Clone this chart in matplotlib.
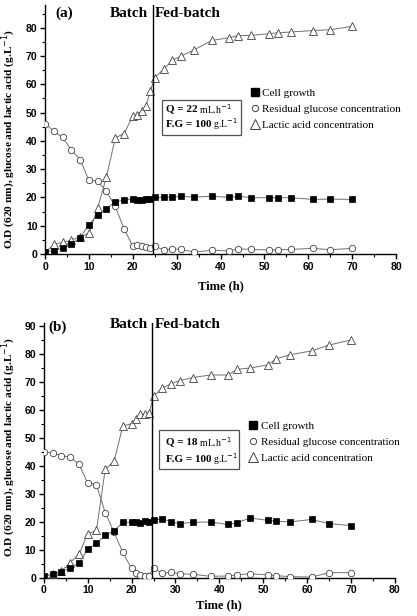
import matplotlib
matplotlib.use("Agg")
import matplotlib.pyplot as plt
from matplotlib.lines import Line2D
from matplotlib.patches import Rectangle
from matplotlib.ticker import MultipleLocator

# ---------------- data ----------------
time = [0, 2, 4, 6, 8, 10, 12, 14, 16, 18, 20, 21, 22, 23, 24, 25, 27, 29, 31, 34,
        38, 42, 44, 47, 51, 53, 56, 61, 65, 70]

cell_a = [0.8, 1.2, 2.0, 3.4, 5.8, 10.4, 13.8, 16.0, 18.5, 19.0, 19.6, 19.1, 19.2, 19.3, 19.5,
          20.0, 20.0, 20.1, 20.4, 20.1, 20.4, 20.0, 20.4, 19.9, 19.9, 19.9, 19.9, 19.3, 19.4, 19.3]
glucose_a = [46.1, 43.5, 41.2, 36.8, 33.4, 26.0, 25.8, 22.1, 16.8, 8.9, 2.7, 3.2, 2.8, 2.4, 2.0,
             2.7, 1.5, 1.8, 1.6, 0.7, 1.3, 1.1, 1.8, 1.6, 1.4, 1.5, 1.6, 2.0, 1.5, 2.0]
lactic_a = [0.5, 3.4, 4.1, 4.9, 6.1, 7.3, 16.2, 27.3, 41.0, 42.6, 48.7, 49.3, 50.6, 52.4, 57.6,
            62.4, 65.3, 68.5, 70.0, 72.2, 75.5, 76.5, 77.2, 77.3, 77.9, 78.2, 78.5, 79.0, 79.3, 80.5]

cell_b = [0.7, 1.2, 2.0, 3.6, 5.1, 10.2, 12.3, 15.2, 16.7, 19.8, 19.8, 19.8, 19.6, 20.4, 19.9,
          20.6, 21.0, 20.0, 19.3, 19.8, 19.9, 19.0, 19.6, 21.3, 20.5, 20.2, 19.9, 20.8, 19.3, 18.6]
glucose_b = [45.0, 44.6, 43.6, 43.0, 40.6, 33.8, 33.2, 23.2, 16.3, 9.0, 3.3, 1.5, 1.0, 0.7, 0.7,
             3.6, 1.5, 1.9, 1.4, 1.2, 0.5, 0.6, 1.0, 1.4, 1.0, 0.7, 0.4, 0.2, 1.8, 1.8]
lactic_b = [0.5, 1.2, 2.4, 5.4, 8.3, 15.6, 16.9, 38.7, 41.5, 54.2, 55.0, 56.8, 58.3, 58.6, 58.8,
            64.8, 67.7, 69.3, 70.4, 71.5, 72.4, 72.4, 74.4, 74.9, 76.0, 78.2, 79.6, 81.0, 83.1, 84.9]

switch_a = 24.5
switch_b = 24.7
flow_a = "22"
flow_b = "18"
feed_glucose = "100"
legend_labels = ["Cell growth", "Residual glucose concentration", "Lactic acid concentration"]
xlabel = "Time (h)"
ylabel = "O.D (620 nm), glucose and lactic acid (g.L$^{-1}$)"

SERIF = ["Liberation Serif", "DejaVu Serif"]
SANS = ["Liberation Sans", "DejaVu Sans"]
LINE_C = "#707070"
EDGE_C = "#404040"

fig = plt.figure(figsize=(4.17, 6.16), dpi=100)
fig.patch.set_facecolor("white")

panels = [
    dict(pos=[0.108, 0.5877, 0.842, 0.404], ylim=88, yticks=range(0, 81, 10),
         cell=cell_a, glu=glucose_a, lac=lactic_a, sw=switch_a, tag="(a)", flow=flow_a,
         tag_xy=(2.3, 85.2), bt_y=85.2, box=(26.7, 42.0, 18.0, 12.4),
         q_y=51.2, f_y=45.9, txt_x=27.5, leg=(0.584, 0.665), xl_pad=6,
         ylab=(-0.076, 0.462)),
    dict(pos=[0.105, 0.0622, 0.842, 0.4136], ylim=91, yticks=range(0, 91, 10),
         cell=cell_b, glu=glucose_b, lac=lactic_b, sw=switch_b, tag="(b)", flow=flow_b,
         tag_xy=(1.0, 89.5), bt_y=90.6, box=(26.2, 38.8, 18.2, 13.9),
         q_y=48.6, f_y=42.3, txt_x=27.8, leg=(0.584, 0.615), xl_pad=3,
         ylab=(-0.073, 0.515)),
]

for p in panels:
    ax = fig.add_axes(p["pos"])
    ax.plot(time, p["lac"], "-", color=LINE_C, lw=0.7, marker="^", ms=5.2,
            mfc="white", mec=EDGE_C, mew=0.6, zorder=3)
    ax.plot(time, p["glu"], "-", color=LINE_C, lw=0.7, marker="o", ms=4.6,
            mfc="white", mec=EDGE_C, mew=0.6, zorder=3)
    ax.plot(time, p["cell"], "-", color=LINE_C, lw=0.7, marker="s", ms=3.8,
            mfc="black", mec="black", mew=0.5, zorder=4)
    ax.axvline(p["sw"], color="black", lw=1.0, zorder=5)

    ax.set_xlim(0, 80)
    ax.set_ylim(0, p["ylim"])
    ax.set_xticks(range(0, 81, 10))
    ax.set_yticks(list(p["yticks"]))
    ax.xaxis.set_minor_locator(MultipleLocator(5))
    ax.yaxis.set_minor_locator(MultipleLocator(5))
    for s in ["top", "right"]:
        ax.spines[s].set_visible(False)
    for s in ["left", "bottom"]:
        ax.spines[s].set_linewidth(1.0)
    ax.tick_params(which="major", direction="out", length=3.5, width=1.0, pad=2,
                   labelsize=7.5)
    ax.tick_params(which="minor", direction="out", length=2, width=0.8)
    for lab in ax.get_xticklabels() + ax.get_yticklabels():
        lab.set_fontfamily(SANS)
        lab.set_fontweight("bold")

    ax.set_xlabel(xlabel, fontsize=9, fontweight="bold", family=SERIF, labelpad=p["xl_pad"])
    ax.set_ylabel(ylabel, fontsize=8.2, fontweight="bold", family=SERIF)
    ax.yaxis.set_label_coords(*p["ylab"])

    ax.text(p["tag_xy"][0], p["tag_xy"][1], p["tag"], fontsize=11, fontweight="bold",
            family=SERIF, ha="left", va="center", clip_on=False)
    ax.text(p["sw"] - 1.0, p["bt_y"], "Batch", fontsize=11, fontweight="bold",
            family=SERIF, ha="right", va="center", clip_on=False)
    ax.text(p["sw"] + 0.5, p["bt_y"], "Fed-batch", fontsize=11, fontweight="bold",
            family=SERIF, ha="left", va="center", clip_on=False)

    bx, by, bw, bh = p["box"]
    ax.add_patch(Rectangle((bx, by), bw, bh, fill=False, ec="#505050", lw=0.9, zorder=6))
    t1 = ax.text(p["txt_x"], p["q_y"], "Q = " + p["flow"], fontsize=8, fontweight="bold",
                 family=SERIF, ha="left", va="center", zorder=7)
    ax.annotate(" mL.h$^{-1}$", xy=(1, 0.5), xycoords=t1, fontsize=7, family=SERIF,
                ha="left", va="center", zorder=7)
    t2 = ax.text(p["txt_x"], p["f_y"], "F.G = " + feed_glucose, fontsize=8, fontweight="bold",
                 family=SERIF, ha="left", va="center", zorder=7)
    ax.annotate(" g.L$^{-1}$", xy=(1, 0.5), xycoords=t2, fontsize=7, family=SERIF,
                ha="left", va="center", zorder=7)

    handles = [
        Line2D([], [], ls="none", marker="s", ms=6, mfc="black", mec="black"),
        Line2D([], [], ls="none", marker="o", ms=4.5, mfc="white", mec=EDGE_C, mew=0.7),
        Line2D([], [], ls="none", marker="^", ms=6.5, mfc="white", mec=EDGE_C, mew=0.7),
    ]
    ax.legend(handles, legend_labels, loc="upper left", bbox_to_anchor=p["leg"],
              frameon=False, prop={"family": SERIF, "size": 8}, handlelength=0.8,
              handletextpad=0.3, labelspacing=0.55, borderpad=0, borderaxespad=0)

fig.savefig("out.png", dpi=100, facecolor="white")
